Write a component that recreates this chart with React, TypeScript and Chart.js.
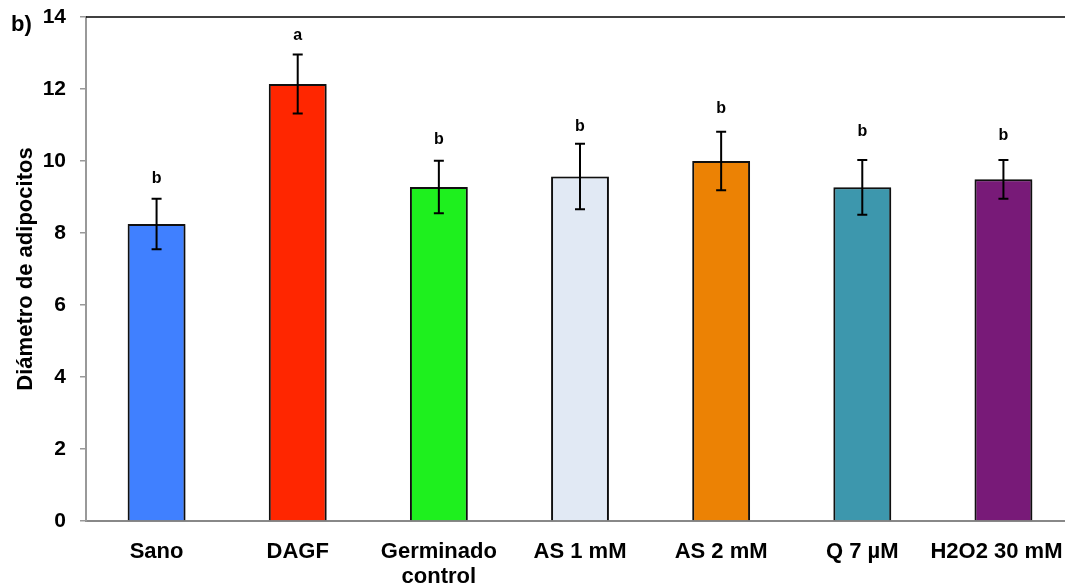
import React, { useEffect, useRef } from 'react';
import { Chart, registerables } from 'chart.js';

Chart.register(...registerables);

const categories: (string | string[])[] = [
  'Sano',
  'DAGF',
  ['Germinado', 'control'],
  'AS 1 mM',
  'AS 2 mM',
  'Q 7 µM',
  'H2O2 30 mM',
];
const means = [8.25, 12.14, 9.28, 9.57, 10.0, 9.27, 9.49];
const errors = [0.7, 0.82, 0.73, 0.91, 0.81, 0.76, 0.54];
const letters = ['b', 'a', 'b', 'b', 'b', 'b', 'b'];
const letterY = [9.39, 13.36, 10.47, 10.82, 11.32, 10.69, 10.58];
const barColors = ['#4080FF', '#FF2600', '#1EF01E', '#E1E9F4', '#EC8204', '#3D97AD', '#781A78'];
const yMin = 0;
const yMax = 14;
const yStep = 2;
const panelLabel = 'b)';
const yTitle = 'Diámetro de adipocitos';

const FONT = '"Liberation Sans", Arial, Helvetica, sans-serif';

const extrasPlugin = {
  id: 'extras',
  beforeDraw(chart: any) {
    // keep the last category label inside the visible frame
    const s = chart.scales.x;
    const items = s.getLabelItems(chart.chartArea);
    const last = items[items.length - 1];
    if (last && !last._shifted) {
      last.options.translation[0] -= 7;
      last._shifted = true;
    }
  },
  beforeDatasetsDraw(chart: any) {
    const ctx = chart.ctx;
    ctx.save();
    ctx.shadowColor = 'rgba(0,0,0,0.35)';
    ctx.shadowBlur = 3;
    ctx.shadowOffsetX = 1;
    ctx.shadowOffsetY = 1;
  },
  afterDatasetsDraw(chart: any) {
    const ctx = chart.ctx;
    ctx.restore();
    const yScale = chart.scales.y;
    const meta = chart.getDatasetMeta(0);
    ctx.save();
    ctx.strokeStyle = '#000';
    ctx.lineWidth = 2;
    meta.data.forEach((el: any, i: number) => {
      const x = el.x;
      const top = yScale.getPixelForValue(means[i] + errors[i]);
      const bot = yScale.getPixelForValue(means[i] - errors[i]);
      ctx.beginPath();
      ctx.moveTo(x, top);
      ctx.lineTo(x, bot);
      ctx.moveTo(x - 5, top);
      ctx.lineTo(x + 5, top);
      ctx.moveTo(x - 5, bot);
      ctx.lineTo(x + 5, bot);
      ctx.stroke();
      ctx.fillStyle = '#000';
      ctx.font = `bold 16px ${FONT}`;
      ctx.textAlign = 'center';
      ctx.textBaseline = 'alphabetic';
      ctx.fillText(letters[i], x, yScale.getPixelForValue(letterY[i]));
    });
    ctx.restore();
  },
  afterDraw(chart: any) {
    const ctx = chart.ctx;
    const ca = chart.chartArea;
    ctx.save();
    ctx.strokeStyle = '#000';
    ctx.lineWidth = 1.5;
    ctx.beginPath();
    ctx.moveTo(ca.left, ca.top);
    ctx.lineTo(ca.right, ca.top);
    ctx.stroke();
    ctx.fillStyle = '#000';
    ctx.font = `bold 22px ${FONT}`;
    ctx.textAlign = 'left';
    ctx.textBaseline = 'alphabetic';
    ctx.fillText(panelLabel, 11, 31);
    ctx.restore();
  },
};

export default function App() {
  const ref = useRef<HTMLCanvasElement | null>(null);
  useEffect(() => {
    if (!ref.current) return;
    const chart = new Chart(ref.current, {
      type: 'bar',
      data: {
        labels: categories as any,
        datasets: [
          {
            data: means,
            backgroundColor: barColors,
            borderColor: '#111',
            borderWidth: 2,
            categoryPercentage: 1,
            barPercentage: 0.41,
          },
        ],
      },
      options: {
        responsive: false,
        animation: false,
        layout: { padding: { top: 17, left: 0, right: 0, bottom: 0 } },
        plugins: { legend: { display: false }, tooltip: { enabled: false } },
        scales: {
          x: {
            grid: { display: false },
            border: { display: true, color: '#888', width: 2 },
            ticks: {
              padding: 10,
              color: '#000',
              maxRotation: 0,
              autoSkip: false,
              font: { family: FONT, size: 22, weight: 'bold', lineHeight: 1.15 },
            },
            afterFit: (s: any) => {
              s.height = 65;
              s.paddingLeft = 0;
              s.paddingRight = 0;
            },
          },
          y: {
            min: yMin,
            max: yMax,
            ticks: {
              stepSize: yStep,
              padding: 14,
              color: '#000',
              font: { family: FONT, size: 21, weight: 'bold' },
            },
            grid: {
              display: true,
              drawOnChartArea: false,
              drawTicks: true,
              tickLength: 6,
              color: '#999',
              lineWidth: 1.5,
            },
            border: { display: true, color: '#999', width: 2 },
            title: {
              display: true,
              text: yTitle,
              color: '#000',
              font: { family: FONT, size: 22, weight: 'bold' },
              padding: { top: 13, bottom: 0 },
            },
            afterFit: (s: any) => {
              s.width = 86;
              s.paddingTop = 0;
              s.paddingBottom = 0;
            },
          },
        },
      } as any,
      plugins: [extrasPlugin],
    });
    return () => chart.destroy();
  }, []);
  return (
    <div
      style={{
        position: 'fixed',
        left: 0,
        top: 0,
        width: 1065,
        height: 586,
        overflow: 'hidden',
        background: '#fff',
      }}
    >
      <canvas ref={ref} width={1074} height={586} style={{ display: 'block' }} />
    </div>
  );
}
